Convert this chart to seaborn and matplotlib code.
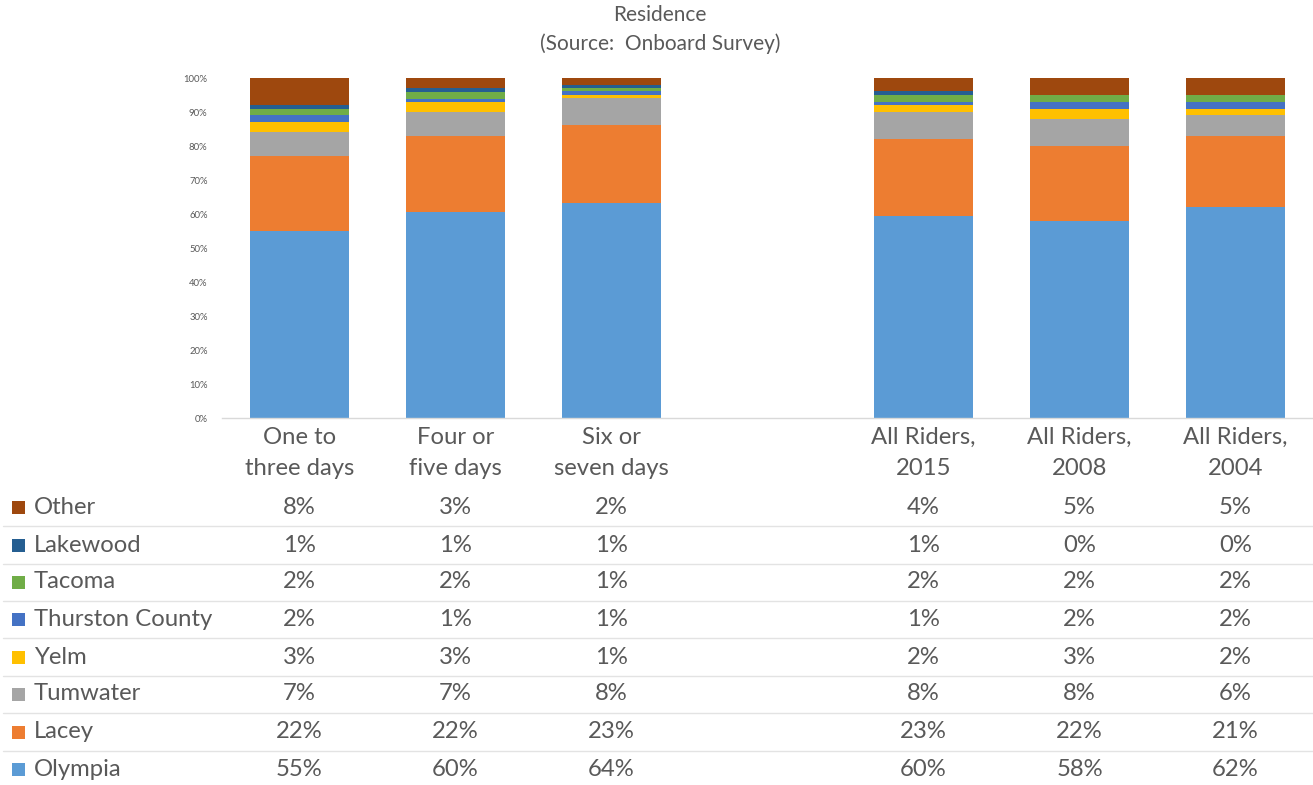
import numpy as np
import pandas as pd
import matplotlib
matplotlib.use("Agg")
import matplotlib.pyplot as plt
import matplotlib.transforms as mtransforms
from matplotlib.patches import Rectangle
import seaborn as sns

# ---------------- data ----------------
categories = ["One to\nthree days", "Four or\nfive days", "Six or\nseven days",
              "All Riders,\n2015", "All Riders,\n2008", "All Riders,\n2004"]
cat_pos = [0, 1, 2, 4, 5, 6]   # gap between the two groups
series = ["Other", "Lakewood", "Tacoma", "Thurston County", "Yelm",
          "Tumwater", "Lacey", "Olympia"]
other = [8, 3, 2, 4, 5, 5]
lakewood = [1, 1, 1, 1, 0, 0]
tacoma = [2, 2, 1, 2, 2, 2]
thurston = [2, 1, 1, 1, 2, 2]
yelm = [3, 3, 1, 2, 3, 2]
tumwater = [7, 7, 8, 8, 8, 6]
lacey = [22, 22, 23, 23, 22, 21]
olympia = [55, 60, 64, 60, 58, 62]
values = [other, lakewood, tacoma, thurston, yelm, tumwater, lacey, olympia]
colors = ["#9E480E", "#255E91", "#70AD47", "#4472C4", "#FFC000",
          "#A5A5A5", "#ED7D31", "#5B9BD5"]
yticks = [0, 0.1, 0.2, 0.3, 0.4, 0.5, 0.6, 0.7, 0.8, 0.9, 1.0]
ytick_labels = ["0%", "10%", "20%", "30%", "40%", "50%", "60%", "70%", "80%", "90%", "100%"]
title = "Residence\n(Source:  Onboard Survey)"

rows = []
for s, vals in zip(series, values):
    for p, v in zip(cat_pos, vals):
        rows.append({"pos": p, "series": s, "value": v})
df = pd.DataFrame(rows)

# ---------------- figure ----------------
W, H = 1313, 785
sns.set_theme(style="white")
plt.rcParams["font.family"] = ["Lato", "DejaVu Sans"]
TXT = "#595959"

fig = plt.figure(figsize=(W / 100, H / 100), dpi=100)
ax = fig.add_axes([221.5 / W, 1 - 418 / H, (1313.5 - 221.5) / W, (418 - 78) / H])

sns.histplot(data=df, x="pos", weights="value", hue="series", hue_order=series,
             palette=dict(zip(series, colors)), multiple="fill", discrete=True,
             shrink=0.635, alpha=1, linewidth=0, legend=False, ax=ax)

ax.set_xlim(-0.5, 6.5)
ax.set_ylim(0, 1)
ax.set_yticks(yticks)
ax.set_yticklabels(ytick_labels, fontsize=6.8, color=TXT)
ax.tick_params(axis="y", length=0, pad=10)
ax.set_xticks([])
ax.set_xlabel("")
ax.set_ylabel("")
for side in ["top", "right", "left"]:
    ax.spines[side].set_visible(False)
ax.spines["bottom"].set_color("#D9D9D9")
ax.spines["bottom"].set_linewidth(1)

fig.text(660 / W, 1 - 29.5 / H, title, ha="center", va="center", fontsize=15,
         color=TXT, linespacing=1.5)

# ---------------- data table ----------------
blend = mtransforms.blended_transform_factory(ax.transData, fig.transFigure)
def fy(py):
    return 1 - py / H

FS = 17.2
for p, lab in zip(cat_pos, categories):
    ax.text(p, fy(453), lab, transform=blend, ha="center", va="center",
            fontsize=FS, color=TXT, linespacing=1.55, clip_on=False)

row_y = [507, 545, 582, 619.5, 657, 694, 732, 769]
for i, (s, vals, c) in enumerate(zip(series, values, colors)):
    y = row_y[i]
    fig.patches.append(Rectangle((12 / W, fy(y + 6.5)), 13 / W, 13 / H,
                                 transform=fig.transFigure, facecolor=c,
                                 edgecolor="none"))
    fig.text(34 / W, fy(y), s, ha="left", va="center", fontsize=FS, color=TXT)
    for p, v in zip(cat_pos, vals):
        ax.text(p, fy(y), f"{v}%", transform=blend, ha="center", va="center",
                fontsize=FS, color=TXT, clip_on=False)
    if i < len(series) - 1:
        ly = (row_y[i] + row_y[i + 1]) / 2
        fig.add_artist(plt.Line2D([3 / W, 1], [fy(ly), fy(ly)],
                                  transform=fig.transFigure, color="#E3E3E3",
                                  linewidth=1))

fig.savefig("out.png", dpi=100)
